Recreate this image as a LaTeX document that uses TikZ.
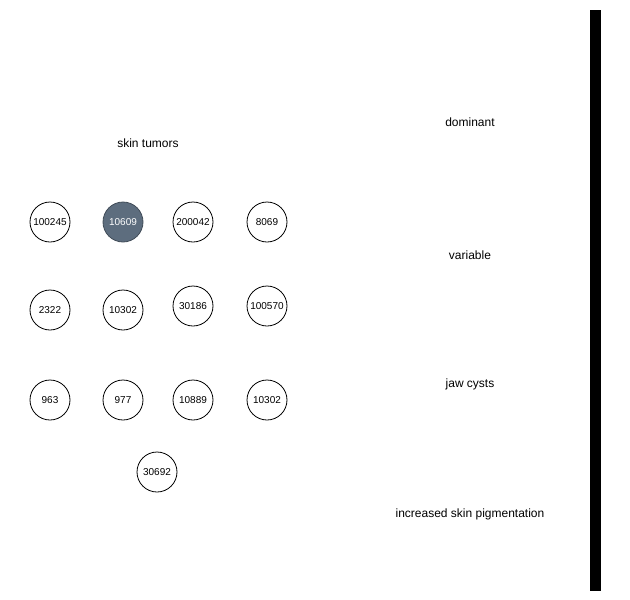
\documentclass[tikz,border=0pt]{standalone}
\usepackage{fontspec}
\setmainfont{Liberation Sans}
\begin{document}
\begin{tikzpicture}[x=1pt,y=-1pt,
  gene/.style={circle,draw=black,line width=0.8pt,minimum size=40pt,inner sep=0pt,font=\fontsize{10}{12}\selectfont},
  hl/.style={gene,fill=hlcol,text=white,draw=hlcol!70!black},
  lbl/.style={font=\fontsize{12}{14}\selectfont,inner sep=0pt,text height=8.6pt,text depth=2.6pt}]
\definecolor{hlcol}{HTML}{5D6D7E}
\useasboundingbox (0,0) rectangle (630,600);
\node[lbl] (t1) at (148,144) {skin tumors};
\node[lbl] (t2) at (470,123) {dominant};
\node[lbl] (t3) at (470,256) {variable};
\node[lbl] (t4) at (470,384) {jaw cysts};
\node[lbl] (t5) at (470,514) {increased skin pigmentation};
\node[gene] (a1) at (50,222) {100245};
\node[hl] (a2) at (123,222) {10609};
\node[gene] (a3) at (193,222) {200042};
\node[gene] (a4) at (267,222) {8069};
\node[gene] (b1) at (50,310) {2322};
\node[gene] (b2) at (123,310) {10302};
\node[gene] (b3) at (193,306) {30186};
\node[gene] (b4) at (267,306) {100570};
\node[gene] (c1) at (50,400) {963};
\node[gene] (c2) at (123,400) {977};
\node[gene] (c3) at (193,400) {10889};
\node[gene] (c4) at (267,400) {10302};
\node[gene] (d1) at (157,472) {30692};
\fill[black] (590,10) rectangle (601,591);
\end{tikzpicture}
\end{document}
